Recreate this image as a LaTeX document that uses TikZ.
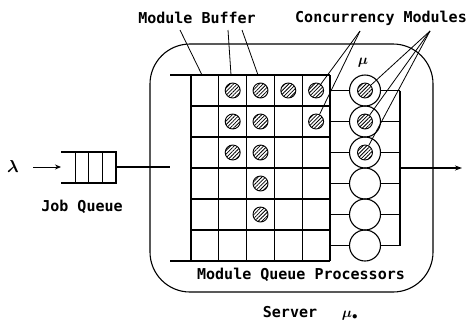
\documentclass[tikz,border=0pt]{standalone}
\usepackage{fontspec}
\usepackage{bm}
\newfontfamily\labfont{DejaVu Sans Mono}
\usetikzlibrary{patterns.meta,arrows.meta}
\begin{document}
\begin{tikzpicture}[x=1pt,y=-1pt,line width=1.1pt,
  lab/.style={font=\labfont\bfseries\fontsize{15}{16}\selectfont, inner sep=0pt},
  hatch/.style={circle, draw, line width=0.9pt, minimum size=15pt, inner sep=0pt,
    pattern={Lines[angle=45,distance=2.6pt,line width=0.8pt]}},
  proc/.style={circle, draw, minimum size=31pt, inner sep=0pt},
  leader/.style={line width=0.8pt},
  greek/.style={inner sep=0pt, font=\fontsize{18}{20}\selectfont}]
\useasboundingbox (0,0) rectangle (470,325);

% server box
\draw[rounded corners=40pt] (150,44) rectangle (433,292);

% job queue
\coordinate (qtl) at (61,152);
\coordinate (qtr) at (116,152);
\coordinate (qbl) at (61,183);
\coordinate (qbr) at (116,183);
\draw (qtl) -- (qtr) -- (qbr) -- (qbl);
\foreach \x in {75,88,102} \draw[line width=0.8pt] (\x,152) -- (\x,183);
\coordinate (qout) at (116,167);
\coordinate (busin) at (170,167);
\draw (qout) -- (busin);
\node[greek] (lam) at (13,166) {$\bm{\lambda}$};
\coordinate (qin) at (61,167);
\coordinate (arst) at (33,167);
\draw[line width=0.9pt,-{Stealth[length=6pt,width=5pt]}] (arst) -- (qin);
\node[lab] (jq) at (82,207) {Job Queue};

% grid
\foreach \i in {0,...,5} \draw ({191+27.8*\i},75) -- ({191+27.8*\i},261);
\foreach \j in {1,...,5} \draw (191,{75+31*\j}) -- (330,{75+31*\j});
\draw (170,75) -- (330,75);
\draw (170,261) -- (330,261);

% module buffer tokens
\foreach \c/\r in {2/1,3/1,4/1,5/1,2/2,3/2,5/2,2/3,3/3,3/4,3/5}
  \node[hatch] (h-\c-\r) at ({191+27.8*(\c-0.5)},{75+31*(\r-0.5)}) {};

% processors
\foreach \r in {1,...,6} {
  \node[proc] (p\r) at (365,{75+31*(\r-0.5)}) {};
  \coordinate (gl\r) at (330,{75+31*(\r-0.5)});
  \coordinate (gr\r) at (400,{75+31*(\r-0.5)});
  \draw (gl\r) -- (p\r);
  \draw (p\r) -- (gr\r);
}
\foreach \r in {1,2,3} \node[hatch] (q\r) at (p\r) {};
\draw (gr1) -- (gr6);
\coordinate (out) at (400,168);
\coordinate (outend) at (462,168);
\draw[-{Stealth[length=7pt,width=5pt]}] (out) -- (outend);
\node[greek, font=\fontsize{15}{16}\selectfont] (mu) at (363,63) {$\bm{\mu}$};

% labels
\node[lab] (mb) at (197,18) {Module Buffer};
\node[lab] (cm) at (381,18) {Concurrency Modules};
\node[lab] (mqp) at (301,275) {Module Queue Processors};
\node[lab] (srv) at (290,312) {Server};
\node[greek, font=\fontsize{15}{16}\selectfont] (mus) at (350,316) {$\bm{\mu}_{\bullet}$};

% leaders
\coordinate (mb1) at (180,30);
\coordinate (mb2) at (228,30);
\coordinate (mb3) at (242,30);
\coordinate (mbe1) at (202,75);
\coordinate (mbe2) at (231,75);
\coordinate (mbe3) at (258,75);
\draw[leader] (mb1) -- (mbe1);
\draw[leader] (mb2) -- (mbe2);
\draw[leader] (mb3) -- (mbe3);
\coordinate (ca) at (360,31);
\draw[leader] (ca) -- (h-5-1);
\draw[leader] (ca) -- (h-5-2);
\coordinate (cb) at (430,31);
\draw[leader] (cb) -- (q1);
\draw[leader] (cb) -- (q2);
\draw[leader] (cb) -- (q3);
\end{tikzpicture}
\end{document}
